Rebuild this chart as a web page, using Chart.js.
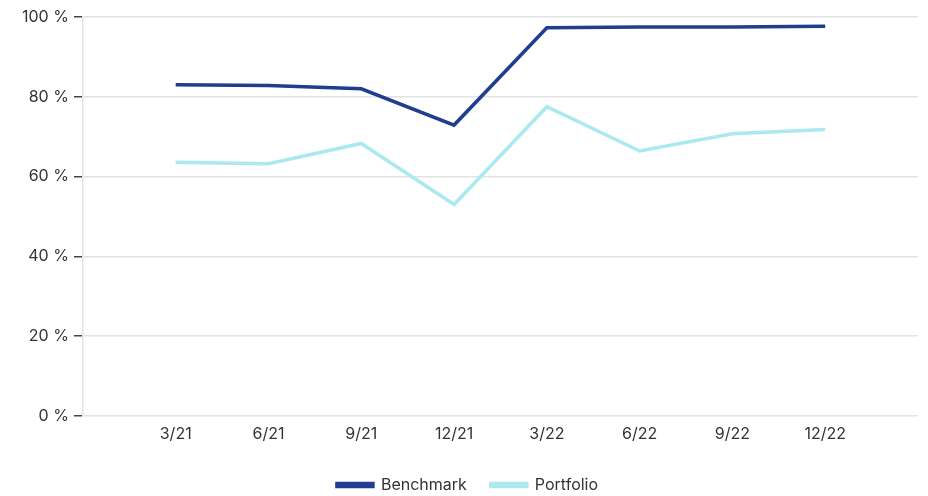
<!DOCTYPE html>
<html>
<head>
<meta charset="utf-8">
<script src="https://cdn.jsdelivr.net/npm/chart.js@4"></script>
<style>
html,body{margin:0;padding:0;background:#fff;}
#wrap{width:928px;height:496px;position:relative;}
</style>
</head>
<body>
<div id="wrap"><canvas id="c" width="928" height="496"></canvas></div>
<script>
const categories = ['', '3/21', '6/21', '9/21', '12/21', '3/22', '6/22', '9/22', '12/22', ''];
const benchmark = [null, 83.0, 82.8, 82.0, 72.9, 97.3, 97.5, 97.5, 97.7, null];
const portfolio = [null, 63.6, 63.2, 68.3, 53.0, 77.5, 66.4, 70.7, 71.8, null];
const yTicks = [0, 20, 40, 60, 80, 100];

const FONT = "Inter, 'Noto Sans', sans-serif";
new Chart(document.getElementById('c'), {
  type: 'line',
  data: {
    labels: categories,
    datasets: [
      { label: 'Benchmark', data: benchmark, borderColor: '#213d8f', backgroundColor: '#213d8f', borderWidth: 3.5, pointRadius: 0, tension: 0 },
      { label: 'Portfolio', data: portfolio, borderColor: '#a9e9ef', backgroundColor: '#a9e9ef', borderWidth: 3.5, pointRadius: 0, tension: 0 }
    ]
  },
  options: {
    responsive: false,
    animation: false,
    layout: { padding: { top: 17, right: 10, left: 17, bottom: -7 } },
    plugins: {
      legend: {
        position: 'bottom',
        labels: { boxWidth: 36, boxHeight: 3, color: '#333', padding: 24, font: { family: FONT, size: 16 } }
      },
      tooltip: { enabled: false }
    },
    scales: {
      x: {
        grid: { display: false, drawTicks: false },
        border: { display: false },
        ticks: { color: '#333', padding: 9, autoSkip: false, maxRotation: 0, font: { family: FONT, size: 16 } }
      },
      y: {
        min: 0, max: 100,
        afterBuildTicks: (s) => { s.ticks = yTicks.map(v => ({ value: v })); },
        grid: { color: '#e3e3e3', lineWidth: 1.5, tickColor: '#444', tickLength: 9, tickWidth: 1.5 },
        border: { display: true, color: '#e3e3e3', width: 1.5 },
        ticks: { color: '#333', padding: 5, font: { family: FONT, size: 16 }, callback: (v) => v + ' %' }
      }
    }
  }
});
</script>
</body>
</html>
